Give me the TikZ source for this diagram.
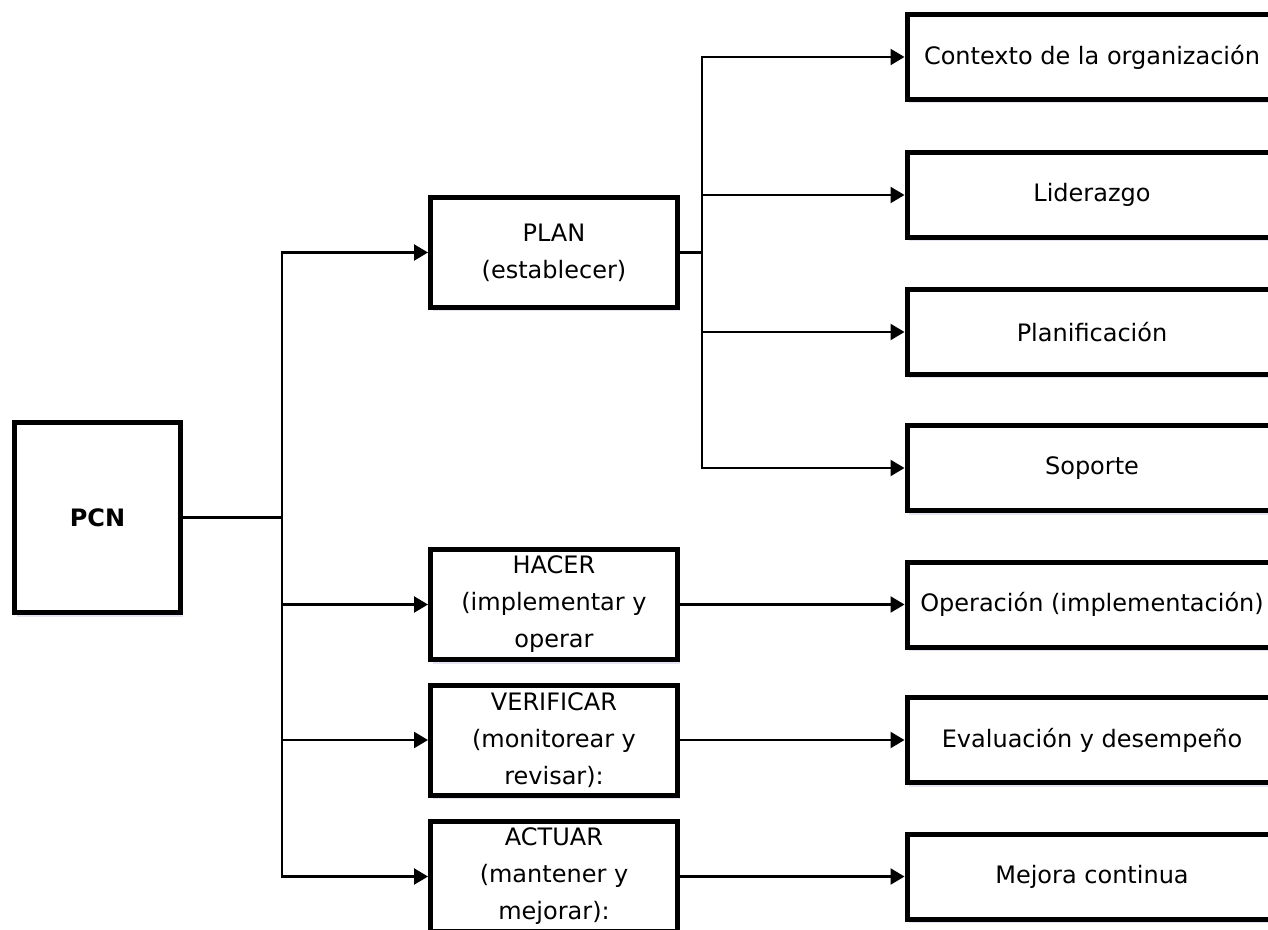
\documentclass[tikz,border=0pt]{standalone}
\usepackage{fontspec}
\setmainfont{DejaVu Sans}
\usetikzlibrary{arrows.meta, shadows}

\begin{document}
\begin{tikzpicture}[x=0.5pt, y=-0.5pt,
   every node/.style={font=\fontsize{12}{18.5}\selectfont},
   box/.style={draw, line width=2.5pt, fill=white, align=center, inner sep=0pt,
               drop shadow={shadow xshift=1pt, shadow yshift=-2pt,
                            opacity=0.15, fill=blue!40!gray}},
   phase/.style={box, minimum width=123.5pt, minimum height=55pt},
   item/.style={box, minimum width=185pt, minimum height=42.5pt},
   link/.style={line width=1.2pt},
   arr/.style={link, -{Triangle[length=7pt, width=8pt]}}]
  \useasboundingbox (0,0) rectangle (1268,930);

  \node[box, minimum width=83pt, minimum height=95pt] (pcn) at (97.5,517.5) {\textbf{PCN}};

  \node[phase] (plan) at (554,252.5) {PLAN\\(establecer)};
  \node[phase] (hacer) at (554,604.5) {HACER\\(implementar y\\operar};
  \node[phase] (verificar) at (554,740) {VERIFICAR\\(monitorear y\\revisar):};
  \node[phase] (actuar) at (554,876.5) {ACTUAR\\(mantener y\\mejorar):};

  \node[item] (contexto) at (1092,57) {Contexto de la organización};
  \node[item] (liderazgo) at (1092,195) {Liderazgo};
  \node[item] (planif) at (1092,332) {Planificación};
  \node[item] (soporte) at (1092,468) {Soporte};
  \node[item] (operacion) at (1092,604.5) {Operación (implementación)};
  \node[item] (evaluacion) at (1092,740) {Evaluación y desempeño};
  \node[item] (mejora) at (1092,876.5) {Mejora continua};

  \coordinate (trunk) at (282,517.5);
  \coordinate (fork) at (702,252.5);

  \draw[link] (pcn.east) -- (trunk);
  \foreach \n in {plan, hacer, verificar, actuar}
    \draw[arr] (trunk) |- (\n.west);

  \draw[link] (plan.east) -- (fork);
  \foreach \n in {contexto, liderazgo, planif, soporte}
    \draw[arr] (fork) |- (\n.west);

  \draw[arr] (hacer.east) -- (operacion.west);
  \draw[arr] (verificar.east) -- (evaluacion.west);
  \draw[arr] (actuar.east) -- (mejora.west);
\end{tikzpicture}
\end{document}
